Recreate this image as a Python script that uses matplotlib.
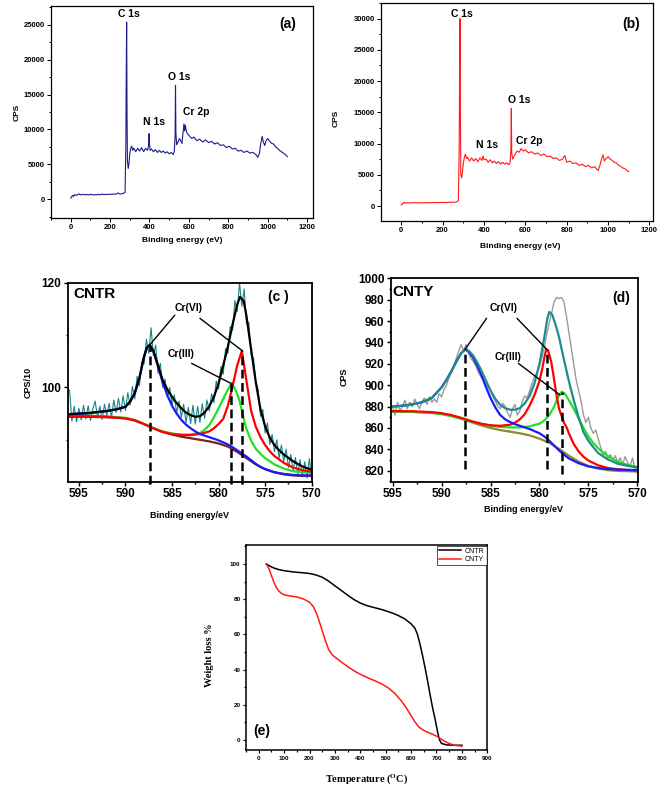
import numpy as np
import matplotlib
matplotlib.use('Agg')
import matplotlib.pyplot as plt
from matplotlib.ticker import MultipleLocator

# ---------------- data ----------------
# (a) survey spectrum, CNTR
a_x = [0, 5, 10, 15, 20, 30, 40, 50, 60, 70, 80, 90, 100, 110, 120, 130, 140, 150, 160, 170, 180, 190, 200,
       210, 220, 230, 240, 250, 260, 270, 276, 280, 282, 284, 286, 288, 292, 296, 300, 305, 310, 315, 320,
       330, 340, 350, 360, 370, 380, 390, 395, 398, 400, 403, 410, 420, 430, 440, 450, 460, 470, 480, 490,
       500, 510, 520, 526, 530, 532, 534, 538, 545, 552, 560, 565, 570, 575, 578, 582, 588, 595, 605, 615,
       625, 640, 655, 670, 685, 700, 715, 730, 745, 760, 775, 790, 805, 820, 835, 850, 865, 880, 895, 910,
       925, 940, 950, 958, 965, 972, 978, 985, 992, 1000, 1010, 1020, 1030, 1040, 1050, 1060, 1070, 1080,
       1090, 1100]
a_y = [150, 350, 550, 400, 650, 550, 750, 600, 700, 620, 680, 600, 700, 620, 650, 600, 700, 640, 720, 650,
       700, 660, 720, 680, 750, 700, 900, 720, 800, 850, 1000, 8000, 18000, 25400, 12000, 5500, 4400, 5200,
       6500, 7300, 7600, 7000, 7300, 6800, 7300, 6900, 7400, 6800, 7300, 7000, 7600, 9400, 8000, 7000, 7200,
       6800, 7100, 6700, 7000, 6700, 6900, 6600, 6800, 6500, 6700, 6400, 6900, 9000, 16300, 9500, 7800,
       8200, 8700, 8300, 8000, 9500, 10800, 9800, 10600, 9600, 9300, 9000, 8700, 8900, 8400, 8600, 8200,
       8500, 8100, 8300, 7900, 8100, 7700, 7800, 7400, 7600, 7200, 7300, 6900, 7000, 6700, 6900, 6600, 6700,
       6400, 6000, 6600, 8000, 9000, 8200, 7700, 8400, 8700, 8300, 8000, 7900, 7500, 7300, 7000, 6800,
       6600, 6400, 6100]

# (b) survey spectrum, CNTY
b_x = [0, 5, 10, 15, 20, 30, 40, 50, 60, 70, 80, 90, 100, 110, 120, 130, 140, 150, 160, 170, 180, 190, 200,
       210, 220, 230, 240, 250, 260, 270, 276, 280, 282, 284, 286, 288, 292, 296, 300, 305, 310, 315, 320,
       330, 340, 350, 360, 370, 380, 390, 395, 400, 410, 420, 430, 440, 450, 460, 470, 480, 490, 500, 510,
       520, 526, 530, 532, 534, 538, 545, 552, 560, 570, 580, 590, 600, 615, 630, 645, 660, 675, 690, 705,
       720, 735, 750, 765, 780, 790, 800, 815, 830, 845, 860, 875, 890, 905, 920, 935, 945, 952, 960, 968,
       975, 982, 990, 1000, 1010, 1020, 1030, 1040, 1050, 1060, 1070, 1080, 1090, 1100]
b_y = [150, 300, 500, 600, 450, 550, 450, 550, 500, 560, 480, 540, 500, 560, 490, 550, 510, 570, 520, 580,
       530, 590, 540, 600, 550, 620, 560, 640, 600, 700, 900, 9000, 22000, 30000, 14000, 5000, 4500, 5500,
       6800, 7800, 8300, 7600, 7800, 7200, 7700, 7200, 7600, 7100, 7700, 7300, 8000, 7400, 7500, 7000,
       7400, 6900, 7200, 6800, 7100, 6700, 7000, 6700, 6900, 6600, 7000, 9000, 15600, 8500, 7500, 8000,
       8400, 8800, 8600, 9200, 8800, 9000, 8500, 8700, 8300, 8500, 8100, 8300, 7900, 8000, 7600, 7700,
       7300, 7500, 8100, 7000, 7200, 6800, 6900, 6500, 6700, 6300, 6500, 6100, 6300, 5900, 5700, 6500,
       7500, 8200, 7200, 7600, 7900, 7500, 7300, 7000, 6900, 6500, 6400, 6100, 6000, 5700, 5500]

# (c) Cr 2p, CNTR (CPS/10)
c_raw = [99.5, 93.6, 96.4, 93.4, 96.0, 93.8, 96.6, 94.0, 96.5, 93.7, 95.9, 97.4, 94.2, 96.4, 93.9, 96.8,
         94.6, 97.0, 94.3, 97.6, 95.2, 97.9, 95.3, 98.4, 95.6, 99.0, 96.6, 100.2, 97.8, 102.1, 100.3, 105.0,
         104.5, 109.2, 106.5, 111.4, 106.1, 108.1, 102.7, 104.6, 100.0, 101.6, 98.1, 100.0, 96.7, 98.6, 95.1,
         97.4, 94.3, 96.8, 93.3, 96.2, 93.1, 96.6, 93.0, 96.4, 93.3, 96.9, 94.1, 97.6, 95.5, 98.8, 97.1,
         101.2, 99.7, 104.0, 102.5, 107.4, 106.5, 111.6, 110.9, 116.6, 114.5, 120.0, 115.5, 118.8, 112.1,
         112.4, 106.1, 105.6, 101.0, 99.6, 94.5, 95.8, 91.3, 93.2, 89.1, 91.0, 87.7, 90.0, 86.5, 89.0, 85.9,
         88.2, 84.7, 87.2, 84.1, 86.6, 83.5, 86.2, 83.1, 85.8, 82.7, 86.4, 82.5]
c_env_x = [596, 595, 594, 593, 592, 591, 590, 589.5, 589, 588.5, 588, 587.7, 587.4, 587.0, 586.5, 586,
           585.5, 585, 584.5, 584, 583.5, 583, 582.5, 582, 581.5, 581, 580.5, 580, 579.5, 579, 578.5, 578,
           577.7, 577.3, 577, 576.5, 576, 575.5, 575, 574.5, 574, 573.5, 573, 572, 571, 570]
c_env_y = [94.9, 95.0, 95.1, 95.3, 95.5, 95.8, 96.3, 97.3, 98.9, 101.8, 105.9, 107.6, 108.1, 107.0, 104.2,
           101.4, 99.6, 98.2, 97.0, 96.0, 95.2, 94.7, 94.4, 94.5, 95.2, 96.4, 98.2, 100.8, 104.2, 107.8,
           112.0, 115.8, 117.3, 116.5, 113.6, 107.2, 101.0, 95.8, 92.6, 90.4, 89.0, 88.0, 87.2, 85.9, 84.9, 84.3]
c_blue_x = [596, 595, 594, 593, 592, 591, 590, 589.5, 589, 588.5, 588, 587.7, 587.4, 587.0, 586.5, 586,
            585.5, 585, 584.5, 584, 583.5, 583, 582.5, 582, 581.5, 581, 580.5, 580, 579.5, 579, 578.5, 578,
            577.5, 577, 576.5, 576, 575.5, 575, 574, 573, 572, 571, 570]
c_blue_y = [94.9, 95.0, 95.1, 95.3, 95.5, 95.8, 96.3, 97.3, 98.9, 101.8, 105.9, 107.6, 108.1, 106.9, 104.0,
            100.9, 98.5, 96.5, 95.0, 93.8, 92.9, 92.2, 91.6, 91.1, 90.8, 90.5, 90.2, 89.9, 89.5, 89.1, 88.6,
            88.0, 87.4, 86.8, 86.1, 85.4, 84.8, 84.4, 83.8, 83.5, 83.3, 83.2, 83.2]
c_bg_x = [596, 594, 592, 590, 589, 588, 587, 586, 585, 584, 583, 582, 581, 580, 579, 578, 577, 576, 575,
          574, 573, 572, 571, 570]
c_bg_y = [94.4, 94.4, 94.3, 94.1, 93.7, 93.0, 92.2, 91.5, 91.0, 90.6, 90.3, 90.0, 89.7, 89.3, 88.7, 87.7,
          86.5, 85.3, 84.4, 83.8, 83.4, 83.2, 83.1, 83.1]
c_green_x = [596, 594, 592, 590, 589, 588, 587, 586, 585, 584, 583, 582, 581.5, 581, 580.5, 580, 579.5,
             579, 578.6, 578.2, 577.8, 577.5, 577.2, 577, 576.5, 576, 575.5, 575, 574, 573, 572, 571, 570]
c_green_y = [94.6, 94.6, 94.5, 94.2, 93.8, 93.0, 92.2, 91.6, 91.2, 91.0, 91.0, 91.3, 91.9, 92.8, 94.3, 96.0,
             97.8, 99.6, 100.8, 99.6, 97.8, 95.6, 93.3, 92.0, 89.8, 88.3, 87.3, 86.5, 85.3, 84.5, 84.0, 83.8, 83.7]
c_red_x = [596, 594, 592, 590, 589, 588, 587, 586, 585, 584, 583, 582, 581, 580.5, 580, 579.5, 579, 578.5,
           578, 577.5, 577, 576.5, 576, 575.5, 575, 574.5, 574, 573, 572, 571, 570]
c_red_y = [94.5, 94.5, 94.4, 94.1, 93.7, 93.0, 92.2, 91.5, 91.1, 90.9, 90.9, 91.1, 91.6, 92.2, 93.0, 94.0,
           96.5, 100.2, 104.2, 107.0, 101.2, 95.5, 92.5, 90.5, 89.0, 87.8, 86.9, 85.6, 84.7, 84.2, 83.9]
c_peak_x = [587.4, 578.7, 577.45]
c_peak_y = [108.1, 100.8, 107.0]

# (d) Cr 2p, CNTY (CPS)
d_raw = [880, 872, 884, 876, 880, 886, 878, 884, 880, 887, 882, 878, 885, 888, 882, 889, 884, 887, 884, 892,
         889, 896, 900, 907, 912, 918, 925, 932, 938, 932, 938, 930, 925, 922, 918, 912, 908, 905, 902, 898,
         895, 889, 885, 880, 878, 883, 880, 874, 870, 878, 882, 872, 876, 885, 890, 888, 895, 902, 908, 912,
         918, 926, 935, 948, 958, 968, 978, 982, 981, 982, 978, 965, 950, 935, 920, 905, 895, 885, 872, 865,
         870, 860, 855, 858, 850, 842, 835, 838, 832, 835, 830, 834, 828, 832, 826, 833, 828, 824, 832, 822, 818]
d_env_x = [595, 594, 593, 592, 591, 590.5, 590, 589.5, 589, 588.5, 588, 587.6, 587.2, 586.8, 586.4, 586,
           585.5, 585, 584.5, 584, 583.5, 583, 582.5, 582, 581.5, 581, 580.5, 580, 579.5, 579.2, 579.0,
           578.7, 578.3, 578, 577.5, 577, 576.5, 576, 575.5, 575, 574.5, 574, 573, 572, 571, 570]
d_env_y = [880.0, 880.8, 882.0, 884.0, 888.0, 893.0, 898.0, 905.0, 913.0, 922.0, 930.0, 933.5, 932.0, 928.0,
           922.0, 915.0, 905.0, 895.0, 887.0, 881.5, 878.5, 877.0, 877.0, 878.5, 883.0, 890.0, 902.0, 920.0,
           945.0, 962.0, 968.5, 966.0, 955.0, 945.0, 924.0, 904.0, 886.0, 870.0, 856.0, 848.0, 842.0, 836.5,
           830.5, 826.5, 824.5, 823.0]
d_blue_x = [595, 594, 593, 592, 591, 590.5, 590, 589.5, 589, 588.5, 588, 587.6, 587.2, 586.8, 586.4, 586,
            585.5, 585, 584.5, 584, 583.5, 583, 582.5, 582, 581, 580, 579.5, 579, 578.5, 578, 577.5, 577,
            576, 575, 574, 573, 572, 570]
d_blue_y = [880.0, 880.8, 882.0, 884.0, 888.0, 893.0, 898.0, 905.0, 913.0, 922.0, 930.0, 933.5, 931.0,
            926.0, 919.0, 911.0, 899.0, 888.0, 879.0, 872.0, 868.0, 865.5, 863.5, 862.0, 859.0, 855.0, 852.0,
            848.0, 843.5, 839.0, 835.0, 831.5, 827.0, 824.0, 822.5, 821.5, 821.0, 820.5]
d_bg_x = [595, 593, 591, 590, 589, 588, 587, 586, 585, 584, 583, 582, 581, 580, 579, 578, 577, 576, 575,
          574, 573, 572, 570]
d_bg_y = [875.2, 875.0, 874.0, 873.0, 871.0, 868.5, 865.5, 862.5, 860.0, 858.0, 856.5, 855.0, 853.0, 850.0,
          846.0, 840.5, 834.0, 828.5, 824.5, 822.0, 820.5, 819.8, 819.2]
d_red_x = [595, 593, 591, 590, 589, 588, 587, 586, 585, 584, 583, 582.5, 582, 581.5, 581, 580.5, 580,
           579.7, 579.5, 579.3, 579.1, 578.8, 578.6, 578.3, 578, 577.5, 577.2, 577, 576.5, 576, 575.5, 575,
           574, 573, 572, 571, 570]
d_red_y = [875.8, 875.6, 874.8, 873.8, 872.0, 869.5, 866.5, 864.0, 862.5, 862.0, 863.0, 865.0, 868.0,
           873.0, 881.0, 891.0, 904.0, 916.0, 926.0, 933.5, 932.0, 922.0, 911.0, 893.0, 878.0, 865.0, 860.0,
           855.0, 845.0, 838.0, 833.0, 829.5, 825.0, 822.5, 821.3, 820.7, 820.3]
d_green_x = [595, 591, 589, 587, 585, 584, 583, 582, 581, 580, 579.5, 579, 578.5, 578.2, 577.9, 577.7,
             577.4, 577, 576.5, 576, 575.5, 575, 574.5, 574, 573.5, 573, 572, 571, 570]
d_green_y = [875.5, 874.5, 871.5, 866.0, 862.0, 861.0, 860.5, 860.5, 861.5, 864.0, 867.0, 872.0, 880.0,
             887.0, 892.0, 893.9, 892.0, 886.0, 878.0, 869.0, 860.0, 852.0, 846.0, 841.0, 837.0, 833.5,
             828.5, 825.5, 823.5]
d_peak_x = [587.6, 579.25, 577.7]
d_peak_y = [933.5, 933.5, 893.9]
d_dash_bottom = [822, 822, 817]

# (e) TGA
e_r_t = [30, 40, 50, 60, 80, 100, 125, 150, 175, 200, 225, 250, 275, 300, 325, 350, 375, 400, 425, 450,
         475, 500, 525, 550, 575, 600, 615, 625, 635, 645, 655, 665, 675, 685, 695, 705, 712, 720, 740, 770, 800]
e_r_w = [100, 99.2, 98.4, 97.7, 96.8, 96.2, 95.7, 95.3, 95.0, 94.6, 93.8, 92.5, 90.3, 87.6, 85.0, 82.3,
         79.8, 77.8, 76.4, 75.4, 74.5, 73.4, 72.2, 70.7, 68.8, 66.0, 63.5, 60.0, 54.5, 48.0, 41.0, 33.5,
         25.5, 18.0, 11.5, 4.0, 0.0, -2.0, -2.8, -3.0, -3.0]
e_y_t = [30, 40, 50, 60, 70, 80, 90, 100, 125, 150, 175, 200, 215, 230, 245, 260, 275, 290, 310, 335, 360,
         385, 410, 435, 460, 485, 510, 535, 560, 580, 600, 615, 630, 645, 660, 680, 700, 715, 730, 750, 770, 800]
e_y_w = [100, 97.5, 93.5, 89.5, 86.5, 84.5, 83.3, 82.5, 81.8, 81.3, 80.2, 78.3, 75.8, 71.0, 64.5, 57.5,
         51.5, 48.3, 46.0, 43.3, 40.7, 38.5, 36.6, 35.0, 33.5, 31.8, 29.6, 26.6, 22.5, 18.5, 13.8, 10.3,
         7.5, 5.8, 4.7, 3.5, 2.2, 0.8, -0.6, -2.0, -3.0, -3.5]
e_labels = ['CNTR', 'CNTY']

# ---------------- figure ----------------
W, H = 660, 788
plt.rcParams['font.family'] = ['Liberation Sans', 'DejaVu Sans']
plt.rcParams['font.weight'] = 'bold'
plt.rcParams['mathtext.fontset'] = 'custom'
plt.rcParams['mathtext.rm'] = 'Liberation Serif:bold'
plt.rcParams['mathtext.it'] = 'Liberation Serif:bold'
plt.rcParams['mathtext.bf'] = 'Liberation Serif:bold'

fig = plt.figure(figsize=(W / 100, H / 100), dpi=100)
fig.patch.set_facecolor('white')


def axpix(l, t, r, b):
    return fig.add_axes([l / W, 1 - b / H, (r - l) / W, (b - t) / H])


def ftext(px, py, s, **kw):
    kw.setdefault('ha', 'center')
    kw.setdefault('va', 'center')
    fig.text(px / W, 1 - py / H, s, **kw)


def style(ax, lw, tsize, maj=3, mnr=1.6):
    for sp in ax.spines.values():
        sp.set_linewidth(lw)
    ax.tick_params(which='major', direction='out', length=maj, width=lw * 0.8, labelsize=tsize, pad=1.5)
    ax.tick_params(which='minor', direction='out', length=mnr, width=lw * 0.8)
    for lab in ax.get_xticklabels() + ax.get_yticklabels():
        lab.set_fontweight('bold')


# (a)
ax = axpix(51, 6, 313, 218)
ax.plot(a_x, a_y, color='#1c1c8f', lw=0.8)
ax.set_xlim(-100, 1230)
ax.set_ylim(-2700, 27700)
ax.xaxis.set_major_locator(MultipleLocator(200))
ax.xaxis.set_minor_locator(MultipleLocator(100))
ax.yaxis.set_major_locator(MultipleLocator(5000))
ax.yaxis.set_minor_locator(MultipleLocator(2500))
style(ax, 0.9, 5.5)
for s, x, y in [('C 1s', 297, 26580), ('N 1s', 423, 11000), ('O 1s', 551, 17570), ('Cr 2p', 636, 12460)]:
    ax.text(x, y, s, ha='center', va='center', fontsize=7.5, fontweight='bold')
ax.text(1100, 25140, '(a)', ha='center', va='center', fontsize=10, fontweight='bold')
ftext(182, 241, 'Binding energy (eV)', fontsize=6, fontweight='bold')
ftext(17, 112, 'CPS', fontsize=6, fontweight='bold', rotation=90)

# (b)
ax = axpix(381, 3, 653, 221)
ax.plot(b_x, b_y, color='#ff1a1a', lw=0.8)
ax.set_xlim(-98, 1217)
ax.set_ylim(-2400, 32500)
ax.xaxis.set_major_locator(MultipleLocator(200))
ax.xaxis.set_minor_locator(MultipleLocator(100))
ax.yaxis.set_major_locator(MultipleLocator(5000))
ax.yaxis.set_minor_locator(MultipleLocator(2500))
style(ax, 0.9, 5.5)
for s, x, y in [('C 1s', 291, 30720), ('N 1s', 415, 9840), ('O 1s', 568, 16940), ('Cr 2p', 617, 10420)]:
    ax.text(x, y, s, ha='center', va='center', fontsize=7.5, fontweight='bold')
ax.text(1109, 29120, '(b)', ha='center', va='center', fontsize=10, fontweight='bold')
ftext(520, 247, 'Binding energy (eV)', fontsize=6, fontweight='bold')
ftext(336, 118, 'CPS', fontsize=6, fontweight='bold', rotation=90)

# (c)
ax = axpix(67.7, 282.7, 311.7, 481.7)
ax.plot(np.linspace(596, 570, len(c_raw)), c_raw, color='#178585', lw=0.8)
ax.plot(c_bg_x, c_bg_y, color='#7f1f1f', lw=1.6)
ax.plot(c_green_x, c_green_y, color='#22e022', lw=1.6)
ax.plot(c_red_x, c_red_y, color='#ff0000', lw=1.6)
ax.plot(c_blue_x, c_blue_y, color='#1a1aff', lw=1.6)
ax.plot(c_env_x, c_env_y, color='black', lw=1.6)
ax.vlines(c_peak_x, 81.6, c_peak_y, colors='black', lw=1.8, linestyles=(0, (3.5, 1.8)), clip_on=False, zorder=5)
ax.set_xlim(596.2, 570)
ax.set_ylim(82, 120)
ax.xaxis.set_major_locator(MultipleLocator(5))
ax.xaxis.set_minor_locator(MultipleLocator(2.5))
ax.yaxis.set_major_locator(MultipleLocator(20))
ax.yaxis.set_minor_locator(MultipleLocator(10))
style(ax, 1.3, 8.5)
ax.text(593.3, 117.9, 'CNTR', ha='center', va='center', fontsize=11, fontweight='bold')
ax.text(573.6, 117.2, '(c )', ha='center', va='center', fontsize=10, fontweight='bold')
ax.text(583.25, 115.1, 'Cr(VI)', ha='center', va='center', fontsize=7.5, fontweight='bold')
ax.text(584.0, 106.4, 'Cr(III)', ha='center', va='center', fontsize=7.5, fontweight='bold')
arr = dict(arrowstyle='-', color='black', lw=1.0, shrinkA=0, shrinkB=0)
ax.annotate('', xy=(c_peak_x[0], c_peak_y[0]), xytext=(584.7, 113.8), arrowprops=arr)
ax.annotate('', xy=(c_peak_x[2], c_peak_y[2]), xytext=(582.0, 113.2), arrowprops=arr)
ax.annotate('', xy=(c_peak_x[1], c_peak_y[1]), xytext=(582.9, 104.6), arrowprops=arr)
ftext(189, 515, 'Binding energy/eV', fontsize=6.5, fontweight='bold')
ftext(28, 382, 'CPS/10', fontsize=6.5, fontweight='bold', rotation=90)

# (d)
ax = axpix(390.7, 278.3, 638.3, 481.7)
ax.plot(np.linspace(595, 570, len(d_raw)), d_raw, color='#9a9a9a', lw=1.0)
ax.plot(d_bg_x, d_bg_y, color='#8c8a2c', lw=1.6)
ax.plot(d_green_x, d_green_y, color='#22e022', lw=1.6)
ax.plot(d_red_x, d_red_y, color='#ff0000', lw=1.6)
ax.plot(d_blue_x, d_blue_y, color='#1a1aff', lw=1.6)
ax.plot(d_env_x, d_env_y, color='#1f8c8c', lw=1.6)
ax.vlines(d_peak_x, d_dash_bottom, d_peak_y, colors='black', lw=1.8, linestyles=(0, (3.5, 1.8)), zorder=5)
ax.set_xlim(595.2, 569.9)
ax.set_ylim(809.7, 1000)
ax.xaxis.set_major_locator(MultipleLocator(5))
ax.xaxis.set_minor_locator(MultipleLocator(2.5))
ax.yaxis.set_major_locator(MultipleLocator(20))
ax.yaxis.set_minor_locator(MultipleLocator(10))
style(ax, 1.3, 8.5)
ax.text(592.9, 987.5, 'CNTY', ha='center', va='center', fontsize=11, fontweight='bold')
ax.text(571.6, 981.5, '(d)', ha='center', va='center', fontsize=10, fontweight='bold')
ax.text(583.7, 971.9, 'Cr(VI)', ha='center', va='center', fontsize=7.5, fontweight='bold')
ax.text(583.2, 926.7, 'Cr(III)', ha='center', va='center', fontsize=7.5, fontweight='bold')
ax.annotate('', xy=(d_peak_x[0], d_peak_y[0]), xytext=(585.4, 962.6), arrowprops=arr)
ax.annotate('', xy=(d_peak_x[1], d_peak_y[1]), xytext=(582.3, 962.6), arrowprops=arr)
ax.annotate('', xy=(577.9, 890.8), xytext=(582.15, 920.4), arrowprops=arr)
ftext(524, 509, 'Binding energy/eV', fontsize=6.5, fontweight='bold')
ftext(344, 377, 'CPS', fontsize=6.5, fontweight='bold', rotation=90)

# (e)
ax = axpix(246, 545, 487.3, 750)
ax.plot(e_r_t, e_r_w, color='black', lw=1.1, label=e_labels[0])
ax.plot(e_y_t, e_y_w, color='#ff1a1a', lw=1.1, label=e_labels[1])
ax.set_xlim(-50, 900)
ax.set_ylim(-5.7, 110.8)
ax.xaxis.set_major_locator(MultipleLocator(100))
ax.xaxis.set_minor_locator(MultipleLocator(50))
ax.yaxis.set_major_locator(MultipleLocator(20))
ax.yaxis.set_minor_locator(MultipleLocator(10))
style(ax, 1.1, 4.5, maj=2.5, mnr=1.5)
leg = ax.legend(loc='upper right', fontsize=5, frameon=True, fancybox=False, borderaxespad=0.1,
                handlelength=3.2, borderpad=0.3, labelspacing=0.2, handletextpad=0.5)
leg.get_frame().set_edgecolor('black')
leg.get_frame().set_linewidth(0.6)
for t in leg.get_texts():
    t.set_fontweight('normal')
ax.text(12, 5, '(e)', ha='center', va='center', fontsize=10, fontweight='bold')
ftext(367, 779, r'Temperature ($^{\mathrm{O}}$C)', fontsize=7.5, fontweight='bold', family='Liberation Serif')
ftext(210, 655, 'Weight loss %', fontsize=7.5, fontweight='bold', family='Liberation Serif', rotation=90)

fig.savefig('out.png', dpi=100)
